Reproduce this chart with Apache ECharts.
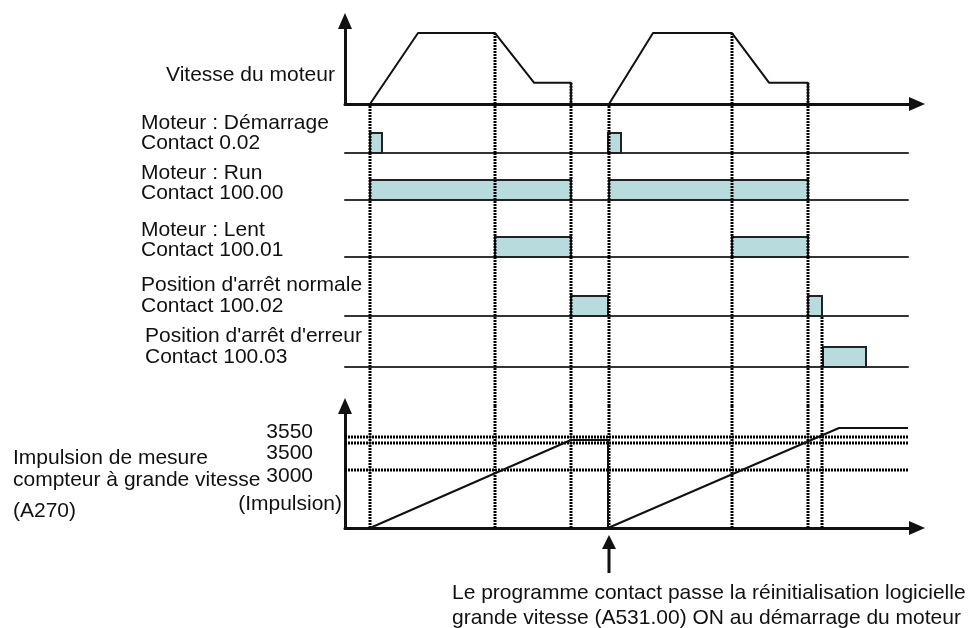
<!DOCTYPE html>
<html>
<head>
<meta charset="utf-8">
<script src="https://cdn.jsdelivr.net/npm/echarts@6/dist/echarts.min.js"></script>
<style>
html, body { margin: 0; padding: 0; background: #fff; }
#chart { width: 976px; height: 628px; }
</style>
</head>
<body>
<div id="chart"></div>
<script>
// time axis: schematic units, shared by every panel
const eventTimes = [25, 150, 226, 264, 387, 463];
const errorTime = 477;
const timeEnd = 563;
const axisEnd = 572;

// motor speed (% of high speed)
const speedTimes = [25, 73, 150, 189, 226, 226, 264, 308, 387, 424, 463, 463];
const speedValues = [0, 100, 100, 30, 30, 0, 0, 100, 100, 30, 30, 0];

// contact rows: ON intervals [start, end]
const rowTitles = ['Moteur : Démarrage', 'Moteur : Run', 'Moteur : Lent', "Position d'arrêt normale", "Position d'arrêt d'erreur"];
const rowContacts = ['Contact 0.02', 'Contact 100.00', 'Contact 100.01', 'Contact 100.02', 'Contact 100.03'];
const demarragePulses = [[25, 37], [263, 276]];
const runPulses = [[25, 226], [264, 463]];
const lentPulses = [[150, 226], [387, 463]];
const normalePulses = [[226, 263], [463, 477]];
const erreurPulses = [[478, 521]];
const rowPulses = [demarragePulses, runPulses, lentPulses, normalePulses, erreurPulses];

// high-speed counter (schematic levels, not to scale)
const counterTimes = [25, 226, 263, 263, 494, 563];
const counterLevels = [0, 88, 88, 0, 100, 100];
const counterTickLabels = ['3550', '3500', '3000'];
const counterTickLevels = [91, 85, 58];

// layout
const LEFT = 345;
const rowBaselines = [153, 200, 257, 316, 367];
const rowTextX = [141, 141, 141, 141, 145];
const rowTextY = [[122.5, 142.5], [172.5, 192.5], [229.5, 249.5], [284.5, 305.5], [335.5, 356.5]];
const FONT = '21px "Liberation Sans", Arial, sans-serif';
const INK = '#111';

const chart = echarts.init(document.getElementById('chart'));

const grids = [];
const xAxes = [];
const yAxes = [];
const series = [];

const arrowLine = {
    show: true,
    symbol: ['none', 'triangle'],
    symbolSize: [14, 16],
    lineStyle: { color: INK, width: 3 }
};

function addGrid(top, height, width, yMax, showX, showY) {
    const gi = grids.length;
    grids.push({ left: LEFT, top: top, width: width, height: height, containLabel: false, outerBoundsMode: 'none' });
    xAxes.push({
        type: 'value', gridIndex: gi, min: 0, max: width,
        axisLine: showX || { show: false },
        axisTick: { show: false }, axisLabel: { show: false }, splitLine: { show: false }
    });
    yAxes.push({
        type: 'value', gridIndex: gi, min: 0, max: yMax,
        axisLine: showY || { show: false },
        axisTick: { show: false }, axisLabel: { show: false }, splitLine: { show: false }
    });
    return gi;
}

function dotted(gi, x0, y0, x1, y1) {
    series.push({
        type: 'line', xAxisIndex: gi, yAxisIndex: gi,
        data: [[x0, y0], [x1, y1]],
        symbol: 'none', silent: true, z: 3,
        lineStyle: { color: '#000', width: 3, type: [2, 1] }
    });
}

// speed panel
const gSpeed = addGrid(21, 83, axisEnd, 117, arrowLine, arrowLine);
series.push({
    type: 'line', xAxisIndex: gSpeed, yAxisIndex: gSpeed,
    data: speedTimes.map((t, i) => [t, speedValues[i]]),
    symbol: 'none', z: 4,
    lineStyle: { color: INK, width: 2 }
});
eventTimes.forEach(t => {
    let v = 0;
    speedTimes.forEach((s, i) => { if (s === t) v = Math.max(v, speedValues[i]); });
    if (v > 0) dotted(gSpeed, t, v, t, 0);
});

// contact rows
let prev = 104;
rowBaselines.forEach((base, r) => {
    const h = base - prev;
    const yMax = h / 20;
    const gi = addGrid(prev, h, timeEnd, yMax, { show: true, lineStyle: { color: '#333', width: 2 } }, null);
    series.push({
        type: 'custom', xAxisIndex: gi, yAxisIndex: gi,
        data: rowPulses[r].map(p => [p[0], p[1], 1]),
        encode: { x: [0, 1], y: 2 },
        z: 2, silent: true,
        renderItem: function (params, api) {
            const a = api.coord([api.value(0), 1]);
            const b = api.coord([api.value(1), 0]);
            return {
                type: 'rect',
                shape: { x: a[0], y: a[1], width: b[0] - a[0], height: b[1] - a[1] },
                style: { fill: '#b8dcde', stroke: '#222', lineWidth: 2 }
            };
        }
    });
    const times = r === 4 ? eventTimes.concat([errorTime]) : eventTimes;
    times.forEach(t => dotted(gi, t, 0, t, yMax));
    prev = base;
});

// gap between rows and counter
const gGap = addGrid(367, 39, axisEnd, 1, null, null);
eventTimes.concat([errorTime]).forEach(t => dotted(gGap, t, 0, t, 1));

// counter panel
const gCount = addGrid(406, 122, axisEnd, 122, arrowLine, arrowLine);
counterTickLevels.forEach(v => dotted(gCount, 0, v, timeEnd, v));
eventTimes.concat([errorTime]).forEach(t => dotted(gCount, t, 0, t, 122));
series.push({
    type: 'line', xAxisIndex: gCount, yAxisIndex: gCount,
    data: counterTimes.map((t, i) => [t, counterLevels[i]]),
    symbol: 'none', z: 4,
    lineStyle: { color: INK, width: 2 }
});

chart.setOption({
    animation: false,
    grid: grids,
    xAxis: xAxes,
    yAxis: yAxes,
    series: series
});

// texts
const graphic = [];
function txt(s, x, y, align) {
    graphic.push({
        type: 'text', x: x, y: y + 1, silent: true,
        style: { text: s, font: FONT, fill: INK, textAlign: align || 'left', textVerticalAlign: 'middle' }
    });
}
txt('Vitesse du moteur', 166, 74);
rowTitles.forEach((s, r) => {
    txt(s, rowTextX[r], rowTextY[r][0]);
    txt(rowContacts[r], rowTextX[r], rowTextY[r][1]);
});
txt('Impulsion de mesure', 13, 457.5);
txt('compteur à grande vitesse', 13, 479.5);
txt('(A270)', 13, 510.5);
const tickY = [431, 452.5, 475.5];
counterTickLabels.forEach((s, i) => txt(s, 313, tickY[i], 'right'));
txt('(Impulsion)', 342, 503.5, 'right');
txt('Le programme contact passe la réinitialisation logicielle', 452, 592.5);
txt('grande vitesse (A531.00) ON au démarrage du moteur', 452, 617.5);

// reset arrow under the counter axis at the second start
const p = chart.convertToPixel({ xAxisIndex: gCount, yAxisIndex: gCount }, [eventTimes[3], 0]);
graphic.push({ type: 'line', silent: true, shape: { x1: p[0], y1: p[1] + 18, x2: p[0], y2: p[1] + 45 }, style: { stroke: INK, lineWidth: 3 } });
graphic.push({ type: 'polygon', silent: true, shape: { points: [[p[0], p[1] + 7], [p[0] - 7, p[1] + 21], [p[0] + 7, p[1] + 21]] }, style: { fill: INK } });

chart.setOption({ graphic: graphic });
</script>
</body>
</html>
